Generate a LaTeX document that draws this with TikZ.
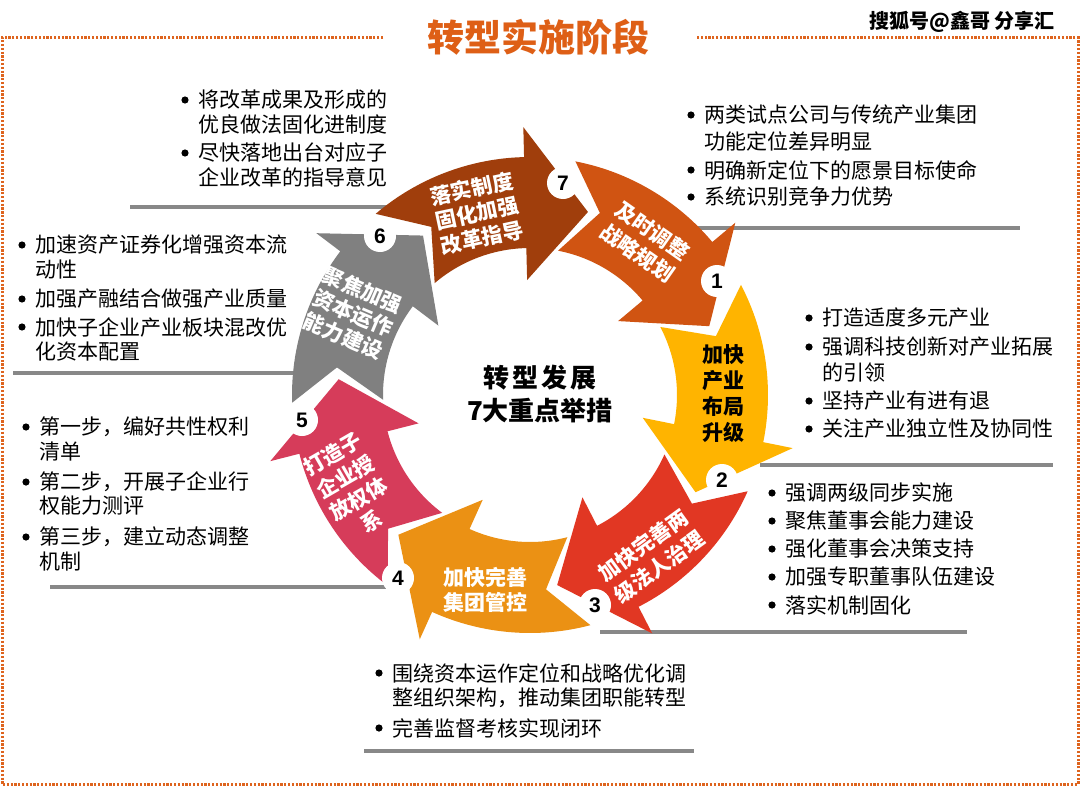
\documentclass[tikz,border=0pt]{standalone}
\usepackage{fontspec}
\setmainfont{Noto Sans CJK SC}
\newfontfamily\numfont{Liberation Sans}
\definecolor{cA}{RGB}{208,84,18}
\definecolor{cB}{RGB}{255,180,0}
\definecolor{cC}{RGB}{225,55,35}
\definecolor{cD}{RGB}{235,145,20}
\definecolor{cE}{RGB}{214,60,90}
\definecolor{cF}{RGB}{128,128,128}
\definecolor{cG}{RGB}{160,62,12}
\definecolor{bordc}{RGB}{222,100,30}
\definecolor{titc}{RGB}{222,95,22}
\definecolor{sepgray}{RGB}{136,136,136}
\newcommand\ringarrow[2]{%
  \pgfmathsetmacro\Hh{#1-39}%
  \pgfmathsetmacro\Tp{#1-58}%
  \pgfmathsetmacro\Nn{#1-10}%
  \fill[#2] (#1:238pt) arc[start angle=#1, end angle=\Hh, radius=238pt]
    -- (\Hh:268pt) -- (\Tp:192pt) -- (\Hh:115pt) -- (\Hh:147pt)
    arc[start angle=\Hh, end angle=#1, radius=147pt]
    -- (\Nn:195pt) -- cycle;}
\newcommand\bitem[4]{% name, x, y, text (with bullet)
  \fill (#2-13,#3) circle[radius=3.6pt];
  \node[bt] (#1) at (#2,#3) {#4};}
\newcommand\bline[4]{% name, x, y, text (continuation)
  \node[bt] (#1) at (#2,#3) {#4};}
\begin{document}
\begin{tikzpicture}[x=1pt,y=-1pt,
  bt/.style={font=\fontsize{21}{21}\selectfont, anchor=west, inner sep=0pt, text=black},
  atxt/.style={font=\fontsize{21}{25}\selectfont\bfseries, text=white, align=center, inner sep=0pt},
  num/.style={circle, fill=white, minimum size=32pt, inner sep=0pt, font=\numfont\bfseries\fontsize{21}{21}\selectfont},
  sep/.style={line width=4pt, draw=sepgray},
  bord/.style={draw=bordc, line width=3pt, dash pattern=on 2.2pt off 1.6pt}]
\useasboundingbox (0,0) rectangle (1080,787);
\fill[white] (0,0) rectangle (1080,787);
% border
\coordinate (b1) at (2,37.5); \coordinate (b2) at (383,37.5);
\coordinate (b3) at (697,37.5); \coordinate (b4) at (1078,37.5);
\coordinate (b5) at (1078,784); \coordinate (b6) at (2,784);
\draw[bord] (b2) -- (b1) -- (b6) -- (b5) -- (b4) -- (b3);
% title & watermark
\node[font=\fontsize{37}{37}\selectfont\bfseries, text=titc, inner sep=0pt] (title) at (538,37) {转型实施阶段};
\node[font=\fontsize{20}{20}\selectfont\bfseries, text=black, inner sep=0pt, anchor=east] (wm) at (1055,22) {搜狐号@鑫哥 分享汇};
% separator lines
\coordinate (s7a) at (130,207); \coordinate (s7b) at (420,207);
\coordinate (s1a) at (690,228); \coordinate (s1b) at (1020,228);
\coordinate (s6a) at (13,373); \coordinate (s6b) at (300,373);
\coordinate (s2a) at (760,465); \coordinate (s2b) at (1053,465);
\coordinate (s5a) at (50,587); \coordinate (s5b) at (400,587);
\coordinate (s3a) at (600,632); \coordinate (s3b) at (967,632);
\coordinate (s4a) at (364,751); \coordinate (s4b) at (694,751);
\draw[sep] (s7a) -- (s7b); \draw[sep] (s1a) -- (s1b);
\draw[sep] (s6a) -- (s6b); \draw[sep] (s2a) -- (s2b);
\draw[sep] (s5a) -- (s5b); \draw[sep] (s3a) -- (s3b);
\draw[sep] (s4a) -- (s4b);
% ring
\begin{scope}[shift={(530,395)}]
  \ringarrow{79}{cA}
  \ringarrow{27.57}{cB}
  \ringarrow{-23.86}{cC}
  \ringarrow{-75.29}{cD}
  \ringarrow{-126.71}{cE}
  \ringarrow{-178.14}{cF}
  \ringarrow{130.43}{cG}
\end{scope}
% arrow texts
\node[atxt, rotate=-35, font=\fontsize{21}{26}\selectfont\bfseries] (tA) at (645,242) {及时调整\\战略规划};
\node[atxt, text=black, font=\fontsize{21}{26}\selectfont\bfseries] (tB) at (723,394) {加快\\产业\\布局\\升级};
\node[atxt, rotate=36, font=\fontsize{21}{27}\selectfont\bfseries] (tC) at (651,556) {加快完善两\\级法人治理};
\node[atxt] (tD) at (485,590) {加快完善\\集团管控};
\node[atxt, rotate=30, font=\fontsize{21}{26}\selectfont\bfseries] (tE) at (352,488) {打造子\\企业授\\放权体\\系};
\node[atxt, rotate=-23, font=\fontsize{21}{25}\selectfont\bfseries] (tF) at (353,313) {聚焦加强\\资本运作\\能力建设};
\node[atxt, rotate=12, font=\fontsize{21}{25}\selectfont\bfseries] (tG) at (477,213) {落实制度\\固化加强\\改革指导};
% number circles
\node[num] (n7) at (563,183) {7};
\node[num] (n1) at (717,281) {1};
\node[num] (n2) at (722,480) {2};
\node[num] (n3) at (595,605) {3};
\node[num] (n4) at (398,578) {4};
\node[num] (n5) at (302,420) {5};
\node[num] (n6) at (380,236) {6};
% center text
\node[font=\fontsize{26}{33}\selectfont\bfseries, align=center, inner sep=0pt] (ctr) at (540,394) {转\kern3pt 型\kern3pt 发\kern3pt 展\\7大重点举措};
% bullet blocks
\bitem{g1}{198}{100}{将改革成果及形成的}
\bline{g2}{198}{124}{优良做法固化进制度}
\bitem{g3}{198}{153}{尽快落地出台对应子}
\bline{g4}{198}{177}{企业改革的指导意见}
\bitem{a1}{704}{115}{两类试点公司与传统产业集团}
\bline{a2}{704}{142}{功能定位差异明显}
\bitem{a3}{704}{170}{明确新定位下的愿景目标使命}
\bitem{a4}{704}{197}{系统识别竞争力优势}
\bitem{p1}{822}{318}{打造适度多元产业}
\bitem{p2}{822}{347}{强调科技创新对产业拓展}
\bline{p3}{822}{373}{的引领}
\bitem{p4}{822}{401}{坚持产业有进有退}
\bitem{p5}{822}{429}{关注产业独立性及协同性}
\bitem{q1}{785}{493}{强调两级同步实施}
\bitem{q2}{785}{521}{聚焦董事会能力建设}
\bitem{q3}{785}{549}{强化董事会决策支持}
\bitem{q4}{785}{577}{加强专职董事队伍建设}
\bitem{q5}{785}{605}{落实机制固化}
\bitem{r1}{392}{673}{围绕资本运作定位和战略优化调}
\bline{r2}{392}{698}{整组织架构，推动集团职能转型}
\bitem{r3}{392}{728}{完善监督考核实现闭环}
\bitem{u1}{39}{427}{第一步，编好共性权利}
\bline{u2}{39}{452}{清单}
\bitem{u3}{39}{482}{第二步，开展子企业行}
\bline{u4}{39}{506}{权能力测评}
\bitem{u5}{39}{537}{第三步，建立动态调整}
\bline{u6}{39}{562}{机制}
\bitem{v1}{35}{245}{加速资产证券化增强资本流}
\bline{v2}{35}{270}{动性}
\bitem{v3}{35}{299}{加强产融结合做强产业质量}
\bitem{v4}{35}{327}{加快子企业产业板块混改优}
\bline{v5}{35}{352}{化资本配置}
\end{tikzpicture}
\end{document}
